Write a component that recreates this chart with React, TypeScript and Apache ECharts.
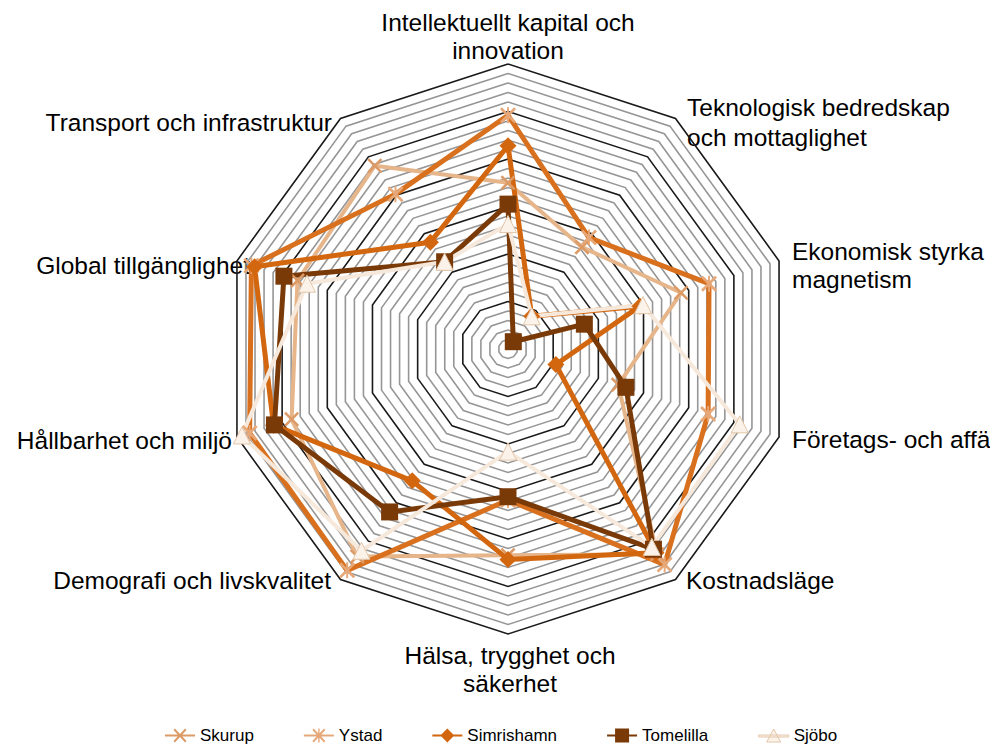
import React, { useEffect, useRef } from 'react';
import * as echarts from 'echarts';

// Indicators, clockwise from the top
const indicatorNames = [
  'Intellektuellt kapital och innovation',
  'Teknologisk bedredskap och mottaglighet',
  'Ekonomisk styrka magnetism',
  'Företags- och affä',
  'Kostnadsläge',
  'Hälsa, trygghet och säkerhet',
  'Demografi och livskvalitet',
  'Hållbarhet och miljö',
  'Global tillgänglighet',
  'Transport och infrastruktur',
];
const indicatorLabels = [
  'Intellektuellt kapital och\ninnovation',
  'Teknologisk bedredskap\noch mottaglighet',
  'Ekonomisk styrka\nmagnetism',
  'Företags- och affä',
  'Kostnadsläge',
  'Hälsa, trygghet och\nsäkerhet',
  'Demografi och livskvalitet',
  'Hållbarhet och miljö',
  'Global tillgänglighet',
  'Transport och infrastruktur',
];
const axisMax = 6;
const ringCount = 30;

const cities = ['Skurup', 'Ystad', 'Simrishamn', 'Tomelilla', 'Sjöbo'];
const skurup = [3.5, 2.65, 3.83, 2.44, 5.34, 4.34, 5.4, 4.79, 4.66, 4.77];
const ystad = [4.92, 2.9, 4.45, 4.43, 5.61, 3.18, 5.76, 5.72, 5.68, 4.03];
const simrishamn = [4.28, 0.85, 2.92, 1.06, 5.3, 4.43, 3.43, 5.19, 5.61, 2.78];
const tomelilla = [3.05, 0.19, 1.69, 2.61, 5.21, 3.11, 4.24, 5.17, 4.96, 2.27];
const sjobo = [2.63, 0.85, 2.99, 5.13, 5.15, 2.16, 5.25, 5.89, 4.45, 2.27];

const X_SYM = 'path://M0,1.2L1.2,0L5,3.8L8.8,0L10,1.2L6.2,5L10,8.8L8.8,10L5,6.2L1.2,10L0,8.8L3.8,5Z';
const STAR_SYM = 'path://M0,1.2L1.2,0L5,3.8L8.8,0L10,1.2L6.2,5L10,8.8L8.8,10L5,6.2L1.2,10L0,8.8L3.8,5ZM4.4,0L5.6,0L5.6,10L4.4,10Z';

const BAR = 'M0,6L30,6L30,8L0,8Z';
const LEG_X = 'path://' + BAR + 'M8.5,1.4L9.9,0L15,5.6L20.1,0L21.5,1.4L16.4,7L21.5,12.6L20.1,14L15,8.4L9.9,14L8.5,12.6L13.6,7Z';
const LEG_STAR = LEG_X + 'M14.3,0L15.7,0L15.7,14L14.3,14Z';
const LEG_DIAMOND = 'path://' + BAR + 'M15,0L22,7L15,14L8,7Z';
const LEG_SQUARE = 'path://' + BAR + 'M8,0L22,0L22,14L8,14Z';
const LEG_TRIANGLE = 'path://' + BAR + 'M15,0L22,13L8,13Z';

// label layout (chart pixel coordinates)
const labelLayout = [
  { x: 508, y: 36, align: 'center', lh: 28 },
  { x: 687, y: 122, align: 'left', lh: 30 },
  { x: 792, y: 265, align: 'left', lh: 28 },
  { x: 792, y: 439, align: 'left', lh: 28 },
  { x: 686, y: 580, align: 'left', lh: 28 },
  { x: 510, y: 669, align: 'center', lh: 28 },
  { x: 331, y: 580, align: 'right', lh: 28 },
  { x: 232, y: 440, align: 'right', lh: 28 },
  { x: 250, y: 265, align: 'right', lh: 28 },
  { x: 332, y: 122, align: 'right', lh: 28 },
];

export default function App() {
  const ref = useRef<HTMLDivElement>(null);
  useEffect(() => {
    document.body.style.margin = '0';
    const chart = echarts.init(ref.current as HTMLDivElement, null, { renderer: 'svg' });
    // ECharts places indicators counterclockwise; reorder so they read clockwise
    const order = [0, 9, 8, 7, 6, 5, 4, 3, 2, 1];
    const reorder = (arr: number[]) => order.map((i) => arr[i]);
    const styles = [
      { values: skurup, symbol: X_SYM, size: 15, line: '#e6b58a', color: '#dc9a66', width: 4 },
      { values: ystad, symbol: STAR_SYM, size: 16, line: '#d8701d', color: '#e6a878', width: 5 },
      { values: simrishamn, symbol: 'diamond', size: 17, line: '#d3670f', color: '#d3670f', width: 5 },
      { values: tomelilla, symbol: 'rect', size: 17, line: '#7a3a08', color: '#7a3a08', width: 5 },
      { values: sjobo, symbol: 'triangle', size: 17, line: '#f6e8da', color: '#fbf3ea', width: 4, border: '#e3c6aa' },
    ];
    const legendIcons = [LEG_X, LEG_STAR, LEG_DIAMOND, LEG_SQUARE, LEG_TRIANGLE];
    const grid = '#969696';
    const option: any = {
      animation: false,
      radar: {
        center: [508, 349],
        radius: 285,
        startAngle: 90,
        shape: 'polygon',
        splitNumber: ringCount,
        indicator: order.map((i) => ({ name: indicatorNames[i], min: 0, max: axisMax })),
        axisName: { show: false },
        axisLine: { show: false },
        axisTick: { show: false },
        axisLabel: { show: false },
        splitArea: { show: false },
        splitLine: {
          lineStyle: { color: ['#1a1a1a', grid, grid, grid, grid], width: 1.6 },
        },
      },
      legend: {
        left: 160,
        top: 722,
        itemGap: 50,
        itemWidth: 30,
        itemHeight: 14,
        textStyle: { fontSize: 17, fontFamily: '"Liberation Sans", Arial, sans-serif', color: '#000' },
        data: cities.map((c, i) => ({
          name: c,
          icon: legendIcons[i],
          itemStyle: styles[i].border
            ? { color: styles[i].color, borderColor: styles[i].border, borderWidth: 1 }
            : { color: styles[i].color },
        })),
      },
      series: [
        {
          type: 'radar',
          silent: true,
          emphasis: { disabled: true },
          data: cities.map((c, i) => ({
            name: c,
            value: reorder(styles[i].values),
            symbol: styles[i].symbol,
            symbolSize: styles[i].size,
            lineStyle: { color: styles[i].line, width: styles[i].width },
            itemStyle: styles[i].border
              ? { color: styles[i].color, borderColor: styles[i].border, borderWidth: 1 }
              : { color: styles[i].color },
          })),
        },
      ],
      graphic: labelLayout.map((l, i) => ({
        type: 'text',
        x: l.x,
        y: l.y,
        silent: true,
        style: {
          text: indicatorLabels[i],
          font: '24.5px "Liberation Sans", Arial, sans-serif',
          fill: '#000',
          textAlign: l.align,
          textVerticalAlign: 'middle',
          lineHeight: l.lh,
        },
      })),
    };
    chart.setOption(option);
    return () => chart.dispose();
  }, []);
  return <div ref={ref} style={{ width: 990, height: 745 }} />;
}
